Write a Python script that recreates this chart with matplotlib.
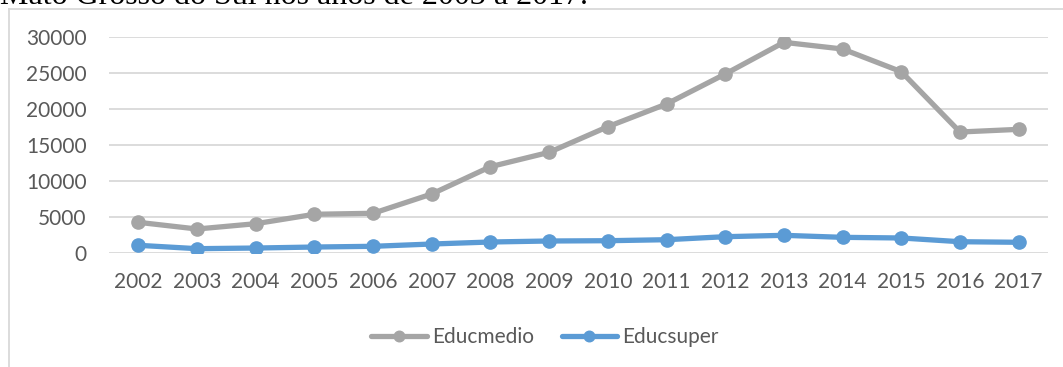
import matplotlib
matplotlib.use("Agg")
import matplotlib.pyplot as plt
from matplotlib.lines import Line2D

anos = ["2002", "2003", "2004", "2005", "2006", "2007", "2008", "2009",
        "2010", "2011", "2012", "2013", "2014", "2015", "2016", "2017"]
educmedio = [4230, 3300, 4040, 5350, 5490, 8180, 11980, 13980,
             17550, 20710, 24890, 29300, 28370, 25210, 16810, 17180]
educsuper = [1030, 560, 650, 790, 890, 1210, 1490, 1630,
             1670, 1810, 2230, 2420, 2140, 2050, 1530, 1450]

cinza = "#A5A5A5"
azul = "#5B9BD5"
grade = "#D9D9D9"
texto = "#595959"

plt.rcParams['font.family'] = ['Lato', 'DejaVu Sans']

W, H = 1063, 367
fig = plt.figure(figsize=(W / 100, H / 100), dpi=100)

# moldura do grafico (cortada a direita e embaixo)
fig.add_artist(Line2D([8.5 / W, 8.5 / W], [1 - 9 / H, 0], color=grade, lw=1.3))
fig.add_artist(Line2D([8.5 / W, 1], [1 - 9 / H, 1 - 9 / H], color=grade, lw=1.3))

# titulo cortado no topo, como no original
fig.text(0, 1 - 3.5 / H, "Mato Grosso do Sul nos anos de 2003 a 2017.",
         family="Liberation Serif", fontsize=23, va="baseline", ha="left", color="black")

x0, x1 = 109, 1048
y0, y1 = 252.7, 37.3
ax = fig.add_axes([x0 / W, 1 - y0 / H, (x1 - x0) / W, (y0 - y1) / H])

xs = range(len(anos))
ax.plot(xs, educmedio, color=cinza, lw=3.8, marker="o", ms=9.5, label="Educmedio",
        solid_capstyle="round", zorder=3)
ax.plot(xs, educsuper, color=azul, lw=3.8, marker="o", ms=9.5, label="Educsuper",
        solid_capstyle="round", zorder=4)

ax.set_xlim(-0.5, len(anos) - 0.5)
ax.set_ylim(0, 30000)
ax.set_yticks(range(0, 30001, 5000))
ax.set_xticks(list(xs))
ax.set_xticklabels(anos)
ax.grid(axis="y", color=grade, lw=1.3)
ax.set_axisbelow(True)
for s in ax.spines.values():
    s.set_visible(False)
ax.tick_params(length=0, labelsize=15, colors=texto)
ax.tick_params(axis="x", pad=14)
ax.tick_params(axis="y", pad=16)

fig.legend(loc="center", bbox_to_anchor=(545 / W, 1 - 337 / H), ncol=2, frameon=False,
           fontsize=15, labelcolor=texto, handlelength=2.65, columnspacing=1.35,
           handletextpad=0.25, markerscale=0.8)

fig.savefig("out.png", dpi=100)
